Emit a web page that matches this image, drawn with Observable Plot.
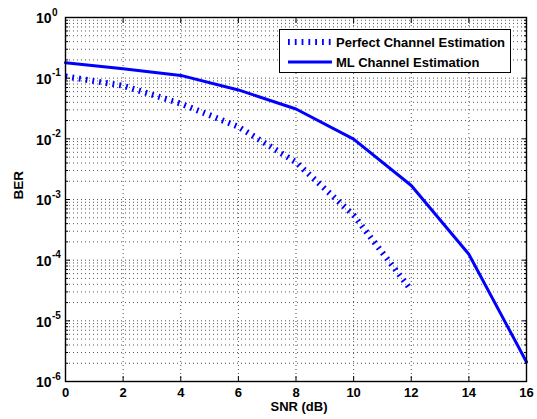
<!DOCTYPE html>
<html><head><meta charset="utf-8">
<script src="https://cdn.jsdelivr.net/npm/d3@7"></script>
<script src="https://cdn.jsdelivr.net/npm/@observablehq/plot@0.6"></script>
<style>
html,body{margin:0;padding:0;background:#fff;}
#wrap{position:relative;width:537px;height:419px;font-family:"Liberation Sans",Arial,Helvetica,sans-serif;}
#legend{position:absolute;left:279px;top:29px;width:232px;height:44px;border:1.4px solid #000;background:#fff;box-sizing:border-box;font-weight:bold;font-size:13px;color:#000;}
.row{position:absolute;left:0;height:20px;display:flex;align-items:center;}
.row svg{margin-left:7px;margin-right:4px;}
</style>
</head><body>
<div id="wrap"><div id="chart"></div>
<div id="legend">
  <div class="row" style="top:2px"><svg width="45" height="10"><line x1="1" y1="5" x2="45" y2="5" stroke="#0000ff" stroke-width="6" stroke-dasharray="1.8,5"/></svg><span id="l1"></span></div>
  <div class="row" style="top:22px"><svg width="45" height="10"><line x1="1" y1="5" x2="45" y2="5" stroke="#0000ff" stroke-width="3"/></svg><span id="l2"></span></div>
</div>
</div>
<script>
const seriesNames = ["Perfect Channel Estimation", "ML Channel Estimation"];
const snrPerfect = [0, 2, 4, 6, 8, 10, 12];
const berPerfect = [0.107, 0.075, 0.038, 0.0158, 0.0041, 0.00055, 0.000032];
const snrML = [0, 2, 4, 6, 8, 10, 12, 14, 16];
const berML = [0.18, 0.143, 0.111, 0.064, 0.031, 0.0099, 0.0017, 0.000125, 0.0000021];
const xTicks = [0, 2, 4, 6, 8, 10, 12, 14, 16];
const yExponents = [-6, -5, -4, -3, -2, -1, 0];
const xLabel = "SNR (dB)";
const yLabel = "BER";

document.getElementById("l1").textContent = seriesNames[0];
document.getElementById("l2").textContent = seriesNames[1];

const yMajor = yExponents.map(e => Math.pow(10, e));
const yMinor = [];
for (const e of yExponents.slice(0, -1)) for (let m = 2; m <= 9; m++) yMinor.push(m * Math.pow(10, e));
const yGrid = yMajor.slice(1, -1).concat(yMinor);
const xGrid = xTicks.slice(1, -1);

const perfect = snrPerfect.map((x, i) => ({x, y: berPerfect[i]}));
const ml = snrML.map((x, i) => ({x, y: berML[i]}));

const font = {fontFamily: '"Liberation Sans", Arial, sans-serif', fontWeight: "bold", fill: "#000"};

const chart = Plot.plot({
  width: 537, height: 419,
  marginLeft: 65, marginRight: 11, marginTop: 17, marginBottom: 38,
  style: {background: "#fff", overflow: "visible"},
  x: {domain: [0, 16], axis: null},
  y: {type: "log", domain: [1e-6, 1], axis: null},
  marks: [
    Plot.ruleY(yGrid, {stroke: "#555", strokeWidth: 1, strokeDasharray: "1,3"}),
    Plot.ruleX(xGrid, {stroke: "#555", strokeWidth: 1, strokeDasharray: "1,3"}),
    Plot.line(ml, {x: "x", y: "y", stroke: "#0000ff", strokeWidth: 3}),
    Plot.line(perfect, {x: "x", y: "y", stroke: "#0000ff", strokeWidth: 6, strokeDasharray: "1.8,5", strokeLinecap: "butt", strokeLinejoin: "miter"}),
    Plot.frame({stroke: "#000", strokeWidth: 1.4}),
    Plot.axisY(yMajor, {anchor: "left", tickSize: -5, tickFormat: () => "", label: null}),
    Plot.axisY(yMajor, {anchor: "right", tickSize: -5, tickFormat: () => "", label: null}),
    Plot.axisY(yMinor, {anchor: "left", tickSize: -3, tickFormat: () => "", label: null}),
    Plot.axisY(yMinor, {anchor: "right", tickSize: -3, tickFormat: () => "", label: null}),
    Plot.axisX(xTicks, {anchor: "bottom", tickSize: -5, tickFormat: () => "", label: null}),
    Plot.axisX(xTicks, {anchor: "top", tickSize: -5, tickFormat: () => "", label: null}),
    Plot.text(yMajor, {x: () => 0, y: d => d, text: () => "10", textAnchor: "end", dx: -14, dy: 1.5, fontSize: 14, ...font}),
    Plot.text(yExponents, {x: () => 0, y: e => Math.pow(10, e), text: e => e < 0 ? "-" + (-e) : String(e), textAnchor: "start", dx: -13.5, dy: -5, fontSize: 10, ...font}),
    Plot.text(xTicks, {x: d => d, y: () => 1e-6, text: d => String(d), dy: 11, fontSize: 13, ...font}),
    Plot.text([xLabel], {frameAnchor: "bottom", text: d => d, dy: 29, dx: 3, fontSize: 13, ...font}),
    Plot.text([yLabel], {frameAnchor: "left", text: d => d, rotate: -90, dx: -47, fontSize: 13.5, ...font})
  ]
});
document.getElementById("chart").appendChild(chart);
</script>
</body></html>
